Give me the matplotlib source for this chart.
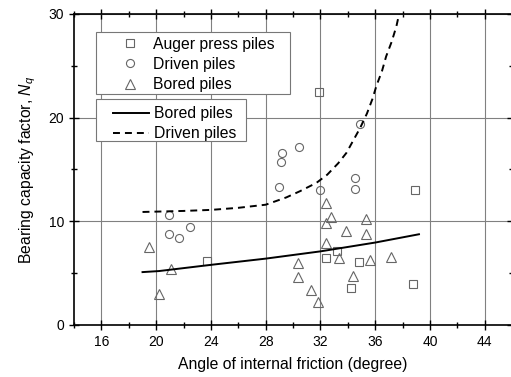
import matplotlib
matplotlib.use("Agg")
import matplotlib.pyplot as plt
from matplotlib.patches import Rectangle
from matplotlib.ticker import MultipleLocator

plt.rcParams["font.family"] = ["Liberation Sans", "DejaVu Sans"]
plt.rcParams["mathtext.fontset"] = "custom"
plt.rcParams["mathtext.rm"] = "Liberation Sans"
plt.rcParams["mathtext.it"] = "Liberation Sans:italic"
plt.rcParams["lines.scale_dashes"] = False

# Data
auger_x = [31.9, 38.9, 23.7, 33.2, 32.4, 34.8, 34.2, 38.8]
auger_y = [22.5, 13.0, 6.2, 7.1, 6.5, 6.1, 3.6, 3.95]

driven_x = [20.9, 20.9, 21.7, 22.5, 29.0, 34.9, 30.4, 29.2, 29.1, 32.0, 34.5, 34.5]
driven_y = [10.6, 8.8, 8.4, 9.45, 13.3, 19.4, 17.15, 16.55, 15.75, 13.0, 14.2, 13.15]

bored_x = [19.5, 21.1, 20.2, 32.4, 32.8, 32.4, 35.3, 33.85, 35.3, 32.4,
           33.35, 35.65, 37.15, 30.35, 30.35, 34.4, 31.3, 31.85]
bored_y = [7.55, 5.4, 3.0, 11.8, 10.45, 9.8, 10.25, 9.05, 8.8, 7.95,
           6.5, 6.25, 6.6, 6.0, 4.65, 4.7, 3.4, 2.25]

# fitted curves
fit_bored_x = [19.0, 20.2, 24.0, 28.0, 32.0, 36.0, 39.2]
fit_bored_y = [5.1, 5.2, 5.8, 6.4, 7.1, 7.95, 8.75]

fit_driven_x = [19.0, 22.0, 24.0, 26.0, 28.0, 29.5, 30.5, 31.7, 32.5, 33.3,
                33.9, 34.4, 34.9, 35.4, 35.8, 36.1, 36.5, 36.8, 37.2, 37.55, 37.75]
fit_driven_y = [10.9, 11.0, 11.1, 11.3, 11.6, 12.3, 12.9, 13.7, 14.5, 15.6,
                16.6, 17.8, 19.0, 20.4, 21.8, 23.1, 24.5, 25.9, 27.3, 28.8, 30.0]

fig = plt.figure(figsize=(5.11, 3.77), dpi=100)
ax = fig.add_axes([0.145, 0.138, 0.857, 0.825])

mk = dict(linestyle="none", markerfacecolor="none", markeredgecolor="#666666",
          markeredgewidth=0.8)
h1, = ax.plot(auger_x, auger_y, marker="s", markersize=5.2, label="Auger press piles", **mk)
h2, = ax.plot(driven_x, driven_y, marker="o", markersize=5.8, label="Driven piles", **mk)
h3, = ax.plot(bored_x, bored_y, marker="^", markersize=6.8, label="Bored piles", **mk)

l1, = ax.plot(fit_bored_x, fit_bored_y, color="black", lw=1.4, label="Bored piles")
l2, = ax.plot(fit_driven_x, fit_driven_y, color="black", lw=1.4,
              dashes=(5, 3.6), label="Driven piles")

ax.set_xlim(14, 46)
ax.set_ylim(0, 30)
ax.xaxis.set_major_locator(MultipleLocator(4))
ax.xaxis.set_minor_locator(MultipleLocator(2))
ax.yaxis.set_major_locator(MultipleLocator(10))
ax.yaxis.set_minor_locator(MultipleLocator(5))
ax.set_xticks([16, 20, 24, 28, 32, 36, 40, 44])
ax.grid(True, which="major", color="#808080", lw=0.8)
ax.set_axisbelow(True)
ax.tick_params(which="both", direction="inout", top=True, right=True,
               labelsize=10, width=1.0)
ax.tick_params(which="major", length=7)
ax.tick_params(which="minor", length=4)
for s in ax.spines.values():
    s.set_linewidth(1.2)

ax.set_xlabel("Angle of internal friction (degree)", fontsize=11.3, labelpad=6)
ax.set_ylabel(r"Bearing capacity factor, $N_q$", fontsize=11.3, labelpad=8)

# legends
ax.add_patch(Rectangle((0.0502, 0.743), 0.443, 0.199, transform=ax.transAxes,
                       facecolor="white", edgecolor="#777777", lw=0.8, zorder=4))
ax.add_patch(Rectangle((0.0502, 0.593), 0.342, 0.133, transform=ax.transAxes,
                       facecolor="white", edgecolor="#777777", lw=0.8, zorder=4))

leg1 = ax.legend(handles=[h1, h2, h3], loc="upper left", bbox_to_anchor=(0.1, 0.926),
                 frameon=False, borderpad=0, borderaxespad=0, fontsize=11.3,
                 handlelength=1.6, handletextpad=0.66, labelspacing=0.32, numpoints=1)
leg1.set_zorder(5)
ax.add_artist(leg1)
leg2 = ax.legend(handles=[l1, l2], loc="upper left", bbox_to_anchor=(0.089, 0.703),
                 frameon=False, borderpad=0, borderaxespad=0, fontsize=11.3,
                 handlelength=2.3, handletextpad=0.33, labelspacing=0.32)
leg2.set_zorder(5)

fig.savefig("out.png", dpi=100)
